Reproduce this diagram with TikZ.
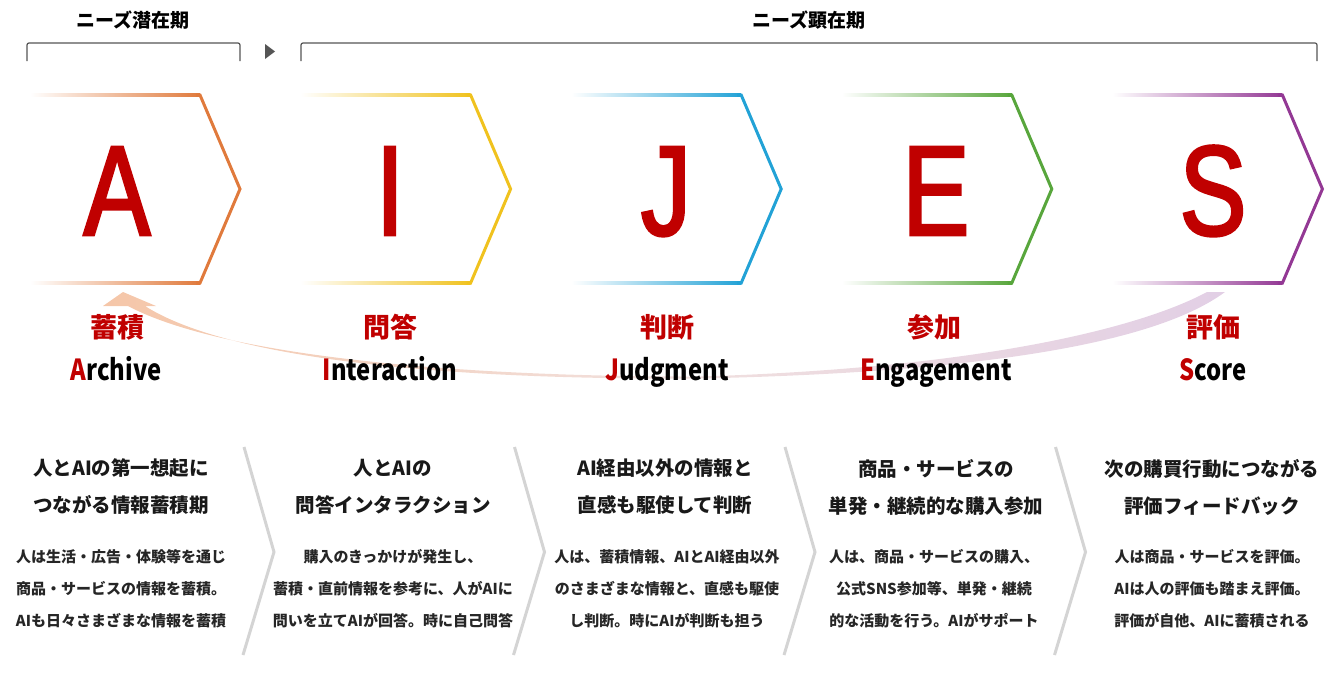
\documentclass[tikz,border=0pt]{standalone}
\usepackage{fontspec}
\setmainfont{Noto Sans CJK JP}
\newfontfamily\letterfont[FakeStretch=0.78,FakeBold=2.2]{Liberation Sans}
\newfontfamily\namefont[FakeStretch=0.82]{Noto Sans CJK JP}

\definecolor{aijred}{HTML}{C00000}
\definecolor{archive}{HTML}{E07A3C}
\definecolor{interaction}{HTML}{F0C21E}
\definecolor{judgment}{HTML}{22A2D6}
\definecolor{engagement}{HTML}{58A63C}
\definecolor{score}{HTML}{933894}
\definecolor{bracket}{HTML}{555555}
\definecolor{dividergray}{HTML}{D4D4D4}
\definecolor{swooshleft}{HTML}{F5C6A8}
\definecolor{swooshmid}{HTML}{F1E0DE}
\definecolor{swooshright}{HTML}{E2CFE5}

% chevron frame: left end of the fading edge, colour
\newcommand{\phasechevron}[2]{%
  \shade[left color=white, right color=#2] (#1,93.5) rectangle (#1+170,96.5);
  \shade[left color=white, right color=#2] (#1,281.5) rectangle (#1+170,284.5);
  \draw[#2, line width=3pt] (#1+166,95) -- (#1+170,95) -- (#1+210,189) -- (#1+170,283) -- (#1+166,283);
}

\begin{document}
\begin{tikzpicture}[x=1pt,y=-1pt]
  \tikzstyle{bigletter} = [anchor=base, inner sep=0pt, text=aijred, font=\letterfont\fontsize{128}{128}\selectfont]
  \tikzstyle{phase} = [inner sep=0pt, text=aijred, font=\bfseries\fontsize{27}{27}\selectfont]
  \tikzstyle{phasename} = [anchor=base, inner sep=0pt, font=\namefont\bfseries\fontsize{29}{29}\selectfont]
  \tikzstyle{headline} = [align=center, inner sep=0pt, text=black!90, font=\bfseries\fontsize{19.5}{37}\selectfont]
  \tikzstyle{detail} = [align=center, inner sep=0pt, text=black!85, font=\bfseries\fontsize{15}{32}\selectfont]
  \tikzstyle{period} = [inner sep=0pt, font=\bfseries\fontsize{19}{19}\selectfont]
  \tikzstyle{bracketline} = [draw=bracket, line width=1.2pt, rounded corners=2pt]
  \tikzstyle{divider} = [draw=dividergray, line width=3pt]

  \useasboundingbox (0,0) rectangle (1337,675);

  % feedback swoosh from Score back to Archive
  \shade[left color=swooshleft, right color=swooshright, middle color=swooshmid]
    (1225,292) .. controls (1160,340) and (1000,372) .. (700,378.5)
    .. controls (450,380) and (230,360) .. (145,306)
    -- (156,306) -- (123,292) -- (103,306) -- (128,306)
    .. controls (220,355) and (450,377) .. (700,376.5)
    .. controls (980,368) and (1140,328) .. (1207,292) -- cycle;

  % periods
  \node (latent) [period] at (133,20) {ニーズ潜在期};
  \node (manifest) [period] at (809,20) {ニーズ顕在期};
  \draw[bracketline] (27,61) -- (27,43) -- (240,43) -- (240,61);
  \draw[bracketline] (301,61) -- (301,43) -- (1317,43) -- (1317,61);
  \fill[bracket] (265,44) -- (275,51.5) -- (265,59) -- cycle;

  % chevrons
  \phasechevron{30}{archive}
  \phasechevron{300.6}{interaction}
  \phasechevron{571.2}{judgment}
  \phasechevron{841.8}{engagement}
  \phasechevron{1112.4}{score}

  \node (letter-a) [bigletter] at (117,235) {A};
  \node (letter-i) [bigletter] at (390,235) {I};
  \node (letter-j) [bigletter] at (666,235) {J};
  \node (letter-e) [bigletter] at (936,235) {E};
  \node (letter-s) [bigletter] at (1213,235) {S};

  \node (phase-a) [phase] at (117,327) {蓄積};
  \node (phase-i) [phase] at (390,327) {問答};
  \node (phase-j) [phase] at (667,327) {判断};
  \node (phase-e) [phase] at (934,327) {参加};
  \node (phase-s) [phase] at (1213,327) {評価};

  \node (name-a) [phasename] at (116,380) {\textcolor{aijred}{A}rchive};
  \node (name-i) [phasename] at (390,380) {\textcolor{aijred}{I}nteraction};
  \node (name-j) [phasename] at (667,380) {\textcolor{aijred}{J}udgment};
  \node (name-e) [phasename] at (936,380) {\textcolor{aijred}{E}ngagement};
  \node (name-s) [phasename] at (1213,380) {\textcolor{aijred}{S}core};

  % dividers between the columns
  \draw[divider] (244,447) -- (274,552) -- (243,655);
  \draw[divider] (514.5,447) -- (544.5,552) -- (513.5,655);
  \draw[divider] (785,447) -- (815,552) -- (784,655);
  \draw[divider] (1055.5,447) -- (1085.5,552) -- (1054.5,655);

  \node (head-a) [headline] at (121,487) {人とAIの第一想起に\\つながる情報蓄積期};
  \node (head-i) [headline] at (393,487) {人とAIの\\問答インタラクション};
  \node (head-j) [headline] at (665,487) {AI経由以外の情報と\\直感も駆使して判断};
  \node (head-e) [headline] at (936,487) {商品・サービスの\\単発・継続的な購入参加};
  \node (head-s) [headline] at (1212,487) {次の購買行動につながる\\評価フィードバック};

  \node (body-a) [detail] at (121,589) {人は生活・広告・体験等を通じ\\商品・サービスの情報を蓄積。\\AIも日々さまざまな情報を蓄積};
  \node (body-i) [detail] at (393,589) {購入のきっかけが発生し、\\蓄積・直前情報を参考に、人がAIに\\問いを立てAIが回答。時に自己問答};
  \node (body-j) [detail] at (667,589) {人は、蓄積情報、AIとAI経由以外\\のさまざまな情報と、直感も駆使\\し判断。時にAIが判断も担う};
  \node (body-e) [detail] at (934,589) {人は、商品・サービスの購入、\\公式SNS参加等、単発・継続\\的な活動を行う。AIがサポート};
  \node (body-s) [detail] at (1212,589) {人は商品・サービスを評価。\\AIは人の評価も踏まえ評価。\\評価が自他、AIに蓄積される};
\end{tikzpicture}
\end{document}
